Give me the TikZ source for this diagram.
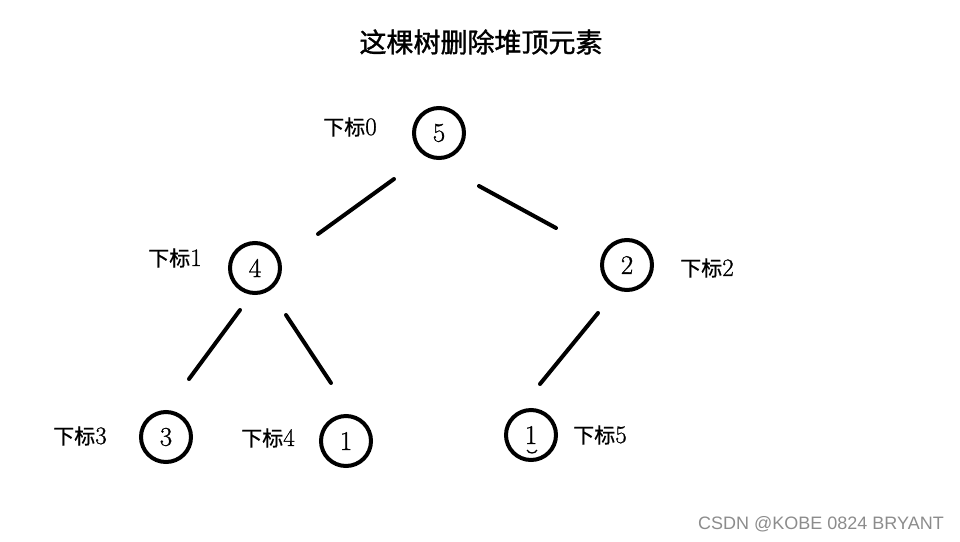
\documentclass[tikz,border=0pt]{standalone}
\usepackage{fontspec}
\newfontfamily\cjk{Noto Sans CJK SC}[FakeBold=0.8]
\newfontfamily\cjktitle{Noto Sans CJK SC}[FakeBold=1.3]
\newfontfamily\dig{Latin Modern Roman}[FakeBold=1.0]
\newfontfamily\wmfont{Liberation Sans}
\tikzset{
  heapnode/.style={circle,draw,line width=4pt,minimum size=50pt,inner sep=0pt,font=\dig\fontsize{27}{27}\selectfont},
  idxlabel/.style={inner sep=0pt,font=\fontsize{21}{21}\selectfont},
  edge/.style={line width=4pt,line cap=round},
}
\newcommand{\idx}[1]{{\cjk 下标}{\dig\fontsize{25}{25}\selectfont #1}}
\begin{document}
\begin{tikzpicture}[x=1pt,y=-1pt]
\useasboundingbox (0,0) rectangle (960,541);
\node[inner sep=0pt,font=\cjktitle\fontsize{27}{27}\selectfont] (title) at (481,42) {这棵树删除堆顶元素};
\node[heapnode] (n0) at (439,133) {5};
\node[heapnode] (n1) at (255,268) {4};
\node[heapnode] (n2) at (627,265) {2};
\node[heapnode] (n3) at (166,437) {3};
\node[heapnode] (n4) at (346,441) {1};
\node[heapnode] (n5) at (531,435) {1};
\node[idxlabel] (l0) at (350,127) {\idx{0}};
\node[idxlabel] (l1) at (175,258) {\idx{1}};
\node[idxlabel] (l2) at (707,268) {\idx{2}};
\node[idxlabel] (l3) at (80,436) {\idx{3}};
\node[idxlabel] (l4) at (268,438) {\idx{4}};
\node[idxlabel] (l5) at (600,435) {\idx{5}};
\coordinate (a1) at (394,179); \coordinate (b1) at (318,234);
\coordinate (a2) at (479,186); \coordinate (b2) at (556,228);
\coordinate (a3) at (240,310); \coordinate (b3) at (189,379);
\coordinate (a4) at (286,315); \coordinate (b4) at (331,383);
\coordinate (a5) at (598,313); \coordinate (b5) at (540,384);
\draw[edge] (a1) -- (b1);
\draw[edge] (a2) -- (b2);
\draw[edge] (a3) -- (b3);
\draw[edge] (a4) -- (b4);
\draw[edge] (a5) -- (b5);
\coordinate (s1) at (527,450); \coordinate (s2) at (537,450);
\draw[line width=1.3pt] (s1) .. controls (529,454) and (535,454) .. (s2);
\node[inner sep=0pt,text=black!45,font=\wmfont\fontsize{18}{18}\selectfont] (wm) at (821,524) {CSDN @KOBE 0824 BRYANT};
\end{tikzpicture}
\end{document}
